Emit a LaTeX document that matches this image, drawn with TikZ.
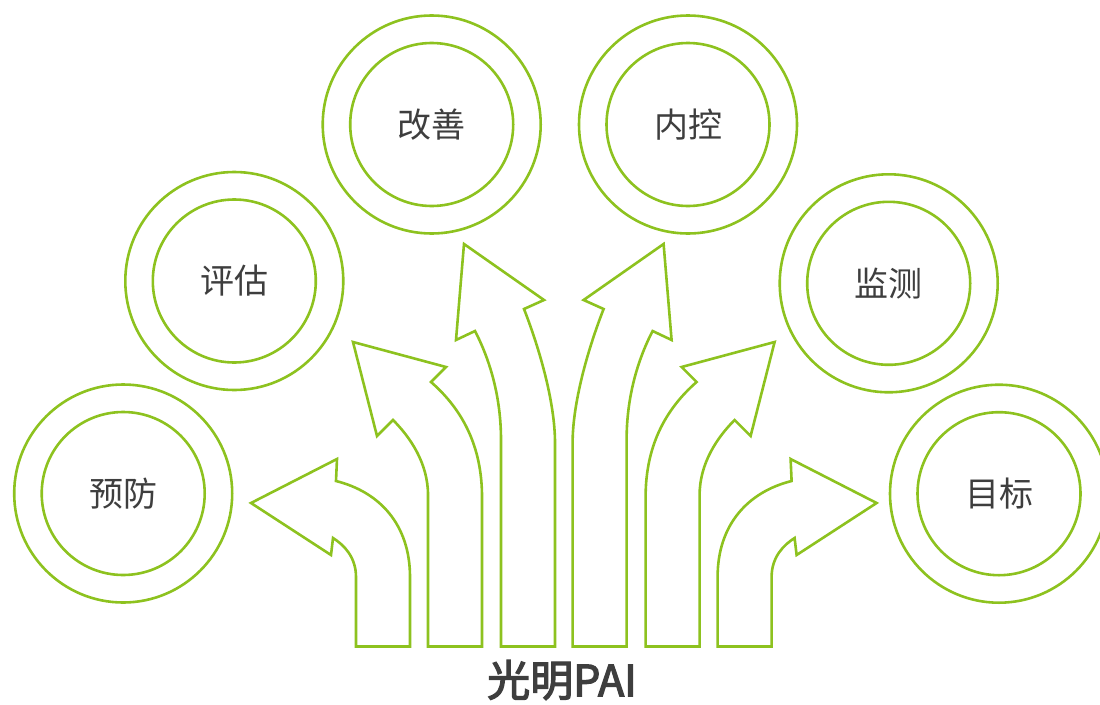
\documentclass[tikz,border=0pt]{standalone}
\usepackage{fontspec}
\setmainfont{Noto Sans CJK SC}
\newfontfamily\titlefont{Noto Sans CJK SC}[FakeBold=3]
\definecolor{lgreen}{RGB}{141,194,31}
\definecolor{txtgray}{RGB}{62,62,62}
\newcommand\arrowsL{%
  \draw[arrowshape] (356,646.5) -- (356,577) .. controls (356,557) and (344,545) .. (333,538)
    -- (331,555) -- (251,503) -- (337,459) -- (336,481)
    .. controls (380,492) and (410,525) .. (410,577) -- (410,646.5) -- cycle;
  \draw[arrowshape] (428,646.5) -- (428,495) .. controls (428,463) and (410,437) .. (393,420)
    -- (377,436) -- (353,342) -- (446,367) -- (431,382)
    .. controls (463,410) and (482,447) .. (482,497) -- (482,646.5) -- cycle;
  \draw[arrowshape] (501,646.5) -- (501,440) .. controls (501,397) and (490,360) .. (475,331)
    -- (456,340) -- (464,244) -- (544,300) -- (524,309)
    .. controls (540,350) and (555,403) .. (555,443) -- (555,646.5) -- cycle;
}
\begin{document}
\begin{tikzpicture}[x=1pt,y=-1pt,
  arrowshape/.style={draw=lgreen, line width=2.6pt, line join=miter},
  ring/.style={circle, draw=lgreen, line width=2.6pt, inner sep=0pt, minimum size=218pt},
  core/.style={circle, draw=lgreen, line width=2.6pt, inner sep=0pt, minimum size=163pt,
    text=txtgray, font=\fontsize{34}{34}\selectfont},
  title/.style={text=txtgray, inner sep=0pt, font=\titlefont\fontsize{43}{43}\selectfont}]
\useasboundingbox (0,0) rectangle (1100,704);
% arrows
\arrowsL
\begin{scope}[shift={(1127.6,0)}, xscale=-1]
\arrowsL
\end{scope}
% rings
\node[ring] (yufang-o) at (123.2,493.5) {};
\node[core] (yufang) at (123.2,493.5) {预防};
\node[ring] (pinggu-o) at (234.3,281) {};
\node[core] (pinggu) at (234.3,281) {评估};
\node[ring] (gaishan-o) at (431.7,124.5) {};
\node[core] (gaishan) at (431.7,124.5) {改善};
\node[ring] (neikong-o) at (688,124.5) {};
\node[core] (neikong) at (688,124.5) {内控};
\node[ring] (jiance-o) at (888.7,283.3) {};
\node[core] (jiance) at (888.7,283.3) {监测};
\node[ring] (mubiao-o) at (999,493.7) {};
\node[core] (mubiao) at (999,493.7) {目标};
% title
\node[title] (guangming) at (562,680) {光明PAI};
\end{tikzpicture}
\end{document}
